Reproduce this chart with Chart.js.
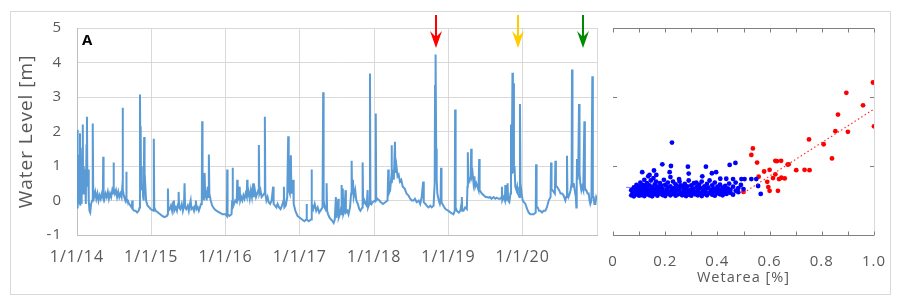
<!DOCTYPE html>
<html>
<head>
<meta charset="utf-8">
<script src="https://cdn.jsdelivr.net/npm/chart.js@4.4.1/dist/chart.umd.min.js"></script>
<style>
body { margin: 0; background: #fff; }
#wrap { position: relative; width: 902px; height: 305px; }
#frame { position: absolute; left: 10px; top: 11px; width: 879px; height: 282px; border: 1px solid #d9d9d9; }
#levelChart { position: absolute; left: 0; top: 0; }
#wetChart { position: absolute; left: 600px; top: 0; }
</style>
</head>
<body>
<div id="wrap">
  <div id="frame"></div>
  <canvas id="levelChart" width="600" height="305"></canvas>
  <canvas id="wetChart" width="290" height="305"></canvas>
</div>
<script>
// time series (decimal years)
var dates = [
  2014.000,2014.004,2014.008,2014.012,2014.020,2014.026,2014.032,2014.040,2014.044,2014.055,
  2014.062,2014.070,2014.078,2014.082,2014.090,2014.098,2014.110,2014.118,2014.128,2014.134,
  2014.140,2014.150,2014.158,2014.168,2014.178,2014.190,2014.205,2014.212,2014.218,2014.230,
  2014.245,2014.260,2014.275,2014.290,2014.305,2014.320,2014.335,2014.348,2014.353,2014.358,
  2014.370,2014.385,2014.400,2014.415,2014.430,2014.445,2014.460,2014.475,2014.488,2014.492,
  2014.497,2014.510,2014.525,2014.540,2014.555,2014.570,2014.585,2014.600,2014.610,2014.614,
  2014.619,2014.635,2014.650,2014.660,2014.664,2014.668,2014.685,2014.700,2014.720,2014.735,
  2014.745,2014.750,2014.770,2014.790,2014.810,2014.830,2014.843,2014.848,2014.852,2014.857,
  2014.862,2014.868,2014.874,2014.882,2014.890,2014.898,2014.904,2014.910,2014.918,2014.930,
  2014.950,2014.975,2014.990,2015.030,2015.034,2015.040,2015.060,2015.090,2015.120,2015.150,
  2015.180,2015.210,2015.220,2015.224,2015.230,2015.250,2015.265,2015.280,2015.295,2015.305,
  2015.310,2015.330,2015.345,2015.360,2015.368,2015.375,2015.390,2015.410,2015.425,2015.440,
  2015.448,2015.455,2015.470,2015.490,2015.505,2015.520,2015.530,2015.540,2015.560,2015.575,
  2015.590,2015.600,2015.610,2015.625,2015.640,2015.655,2015.670,2015.680,2015.685,2015.690,
  2015.700,2015.708,2015.718,2015.726,2015.735,2015.745,2015.760,2015.768,2015.775,2015.782,
  2015.800,2015.820,2015.850,2015.880,2015.920,2015.960,2016.000,2016.018,2016.022,2016.027,
  2016.050,2016.080,2016.088,2016.094,2016.100,2016.115,2016.130,2016.150,2016.157,2016.163,
  2016.175,2016.190,2016.197,2016.210,2016.225,2016.240,2016.255,2016.270,2016.285,2016.290,
  2016.296,2016.310,2016.325,2016.340,2016.355,2016.372,2016.380,2016.395,2016.410,2016.440,
  2016.448,2016.455,2016.470,2016.485,2016.520,2016.529,2016.535,2016.550,2016.565,2016.580,
  2016.600,2016.620,2016.640,2016.647,2016.665,2016.685,2016.700,2016.720,2016.740,2016.760,
  2016.780,2016.785,2016.792,2016.810,2016.830,2016.843,2016.850,2016.865,2016.879,2016.886,
  2016.910,2016.917,2016.940,2016.970,2017.000,2017.030,2017.060,2017.085,2017.090,2017.096,
  2017.120,2017.150,2017.157,2017.163,2017.180,2017.200,2017.220,2017.240,2017.260,2017.275,
  2017.305,2017.314,2017.320,2017.335,2017.355,2017.360,2017.367,2017.380,2017.400,2017.420,
  2017.440,2017.455,2017.470,2017.485,2017.490,2017.505,2017.517,2017.523,2017.540,2017.555,
  2017.562,2017.568,2017.578,2017.585,2017.600,2017.615,2017.620,2017.640,2017.655,2017.675,
  2017.690,2017.697,2017.703,2017.715,2017.725,2017.745,2017.760,2017.780,2017.800,2017.815,
  2017.840,2017.845,2017.852,2017.870,2017.885,2017.900,2017.912,2017.918,2017.935,2017.944,
  2017.950,2017.965,2017.980,2018.015,2018.022,2018.028,2018.045,2018.070,2018.090,2018.120,
  2018.150,2018.180,2018.190,2018.197,2018.215,2018.228,2018.234,2018.240,2018.255,2018.265,
  2018.280,2018.287,2018.300,2018.315,2018.330,2018.347,2018.365,2018.385,2018.410,2018.437,
  2018.460,2018.485,2018.505,2018.530,2018.550,2018.572,2018.600,2018.620,2018.640,2018.660,
  2018.668,2018.690,2018.707,2018.730,2018.755,2018.775,2018.800,2018.815,2018.820,2018.825,
  2018.829,2018.835,2018.842,2018.851,2018.870,2018.885,2018.895,2018.900,2018.907,2018.932,
  2018.960,2019.000,2019.030,2019.068,2019.085,2019.090,2019.097,2019.113,2019.140,2019.160,
  2019.175,2019.180,2019.187,2019.203,2019.225,2019.248,2019.256,2019.261,2019.268,2019.285,
  2019.300,2019.306,2019.313,2019.325,2019.338,2019.350,2019.360,2019.375,2019.390,2019.405,
  2019.414,2019.420,2019.435,2019.450,2019.475,2019.500,2019.518,2019.540,2019.560,2019.580,
  2019.608,2019.630,2019.650,2019.675,2019.698,2019.715,2019.720,2019.725,2019.745,2019.760,
  2019.766,2019.772,2019.785,2019.797,2019.803,2019.820,2019.835,2019.842,2019.848,2019.855,
  2019.862,2019.868,2019.875,2019.882,2019.890,2019.900,2019.915,2019.925,2019.935,2019.955,
  2019.963,2019.970,2019.985,2020.000,2020.036,2020.060,2020.080,2020.103,2020.125,2020.148,
  2020.175,2020.180,2020.187,2020.202,2020.220,2020.238,2020.260,2020.280,2020.305,2020.325,
  2020.350,2020.375,2020.381,2020.388,2020.400,2020.433,2020.440,2020.447,2020.462,2020.490,
  2020.510,2020.530,2020.550,2020.574,2020.585,2020.596,2020.602,2020.615,2020.632,2020.645,
  2020.658,2020.664,2020.670,2020.680,2020.686,2020.700,2020.715,2020.722,2020.727,2020.731,
  2020.738,2020.748,2020.758,2020.765,2020.775,2020.789,2020.800,2020.815,2020.830,2020.837,
  2020.845,2020.857,2020.873,2020.888,2020.900,2020.910,2020.925,2020.937,2020.944,2020.955,
  2020.965,2020.978,2020.990,2021.000
];
var waterLevel = [
  -0.2,1.2,2.05,-0.2,0.8,-0.1,1.3,1.95,-0.15,0.9,
  -0.1,1.5,2.2,0.2,1.0,0.3,0.9,-0.1,1.6,2.43,
  0.4,0.9,0.0,-0.3,-0.35,-0.1,0.0,2.23,0.3,0.1,
  0.25,0.05,0.2,0.0,0.15,0.05,0.2,0.1,1.27,0.2,
  0.05,0.2,0.1,0.25,0.05,0.2,0.1,0.3,0.2,1.1,
  0.35,0.2,0.3,0.1,0.25,0.1,0.2,0.1,0.4,2.69,
  0.3,0.1,0.0,0.1,0.83,0.05,0.0,-0.1,-0.15,-0.2,
  0.0,-0.25,-0.3,-0.3,-0.35,-0.3,-0.2,3.07,1.5,2.15,
  0.6,1.0,0.3,0.5,0.1,0.0,1.84,0.4,0.5,0.0,
  -0.15,-0.2,-0.25,-0.3,1.79,-0.2,-0.3,-0.35,-0.4,-0.45,
  -0.48,-0.45,-0.4,0.35,-0.3,-0.25,-0.15,-0.3,-0.05,0.0,
  -0.3,-0.2,-0.3,-0.1,0.25,-0.2,-0.25,-0.1,-0.3,-0.15,
  0.5,-0.2,-0.25,-0.15,-0.3,-0.1,0.0,-0.25,-0.2,-0.3,
  -0.15,0.0,-0.25,-0.2,-0.3,-0.2,-0.1,0.0,2.3,0.1,
  0.7,0.0,0.8,0.1,0.3,0.0,0.4,0.1,1.33,0.2,
  0.0,-0.15,-0.25,-0.3,-0.35,-0.4,-0.4,-0.45,0.9,-0.4,
  -0.45,-0.4,0.0,0.95,-0.2,-0.1,0.0,-0.05,0.6,0.0,
  0.05,0.4,0.0,0.1,0.0,0.15,0.05,0.2,0.1,0.6,
  0.1,0.25,0.05,0.3,0.1,0.5,0.1,0.3,0.1,0.3,
  1.61,0.2,0.3,0.1,0.2,2.43,0.2,0.0,0.1,-0.05,
  -0.1,0.0,0.4,-0.1,-0.15,-0.2,-0.1,-0.2,-0.25,-0.15,
  0.0,0.4,-0.2,-0.15,0.1,1.86,0.3,0.2,1.31,0.2,
  0.6,-0.1,-0.3,-0.45,-0.5,-0.55,-0.6,-0.55,-0.1,-0.55,
  -0.6,-0.55,0.9,-0.1,-0.25,-0.1,-0.3,-0.2,-0.35,-0.3,
  -0.2,3.14,0.0,-0.2,-0.3,0.5,-0.3,-0.4,-0.5,-0.55,
  -0.6,-0.65,-0.55,0.1,-0.5,-0.3,0.05,-0.5,-0.4,-0.2,
  0.45,-0.4,0.35,-0.4,-0.3,0.3,-0.35,-0.3,-0.4,-0.2,
  0.2,1.15,0.3,0.6,0.1,0.3,0.0,-0.1,-0.25,-0.3,
  -0.2,1.1,-0.1,0.0,-0.1,-0.15,0.3,-0.2,-0.1,3.68,
  0.0,-0.1,-0.05,0.0,2.52,0.0,0.05,0.0,-0.05,-0.1,
  -0.05,0.0,0.9,0.2,0.3,0.6,1.6,0.5,0.9,0.6,
  1.7,0.8,1.0,0.7,0.75,0.55,0.6,0.4,0.35,0.2,
  0.15,0.05,0.0,0.0,0.05,-0.05,0.0,-0.1,0.1,0.55,
  -0.05,-0.1,-0.15,-0.2,-0.15,-0.2,-0.15,0.5,3.35,2.0,
  4.23,1.5,0.6,0.2,0.0,-0.1,0.0,0.95,-0.05,-0.15,
  -0.25,-0.3,-0.35,-0.4,-0.3,2.64,-0.2,-0.3,-0.35,-0.3,
  -0.1,0.1,-0.3,-0.3,-0.2,-0.25,0.4,1.4,0.5,0.6,
  0.7,1.5,0.7,0.8,0.5,0.7,0.4,0.5,0.4,0.3,
  1.2,0.3,0.25,0.2,0.15,0.1,0.1,0.08,0.1,0.05,
  0.1,0.05,0.08,0.05,0.05,0.1,0.4,0.0,0.1,0.0,
  0.45,0.0,0.05,0.5,0.0,-0.05,0.2,2.2,0.8,1.5,
  3.7,1.0,3.4,0.8,1.0,0.4,0.3,0.4,0.2,0.1,
  2.8,0.5,0.2,0.0,-0.1,-0.25,-0.35,-0.4,-0.4,-0.4,
  -0.35,1.05,-0.2,-0.2,-0.3,-0.3,-0.35,-0.3,-0.3,-0.2,
  0.0,0.1,1.1,0.3,0.3,0.2,1.15,0.4,0.4,0.3,
  0.2,0.2,0.15,0.0,0.1,1.3,0.2,0.1,0.2,0.3,
  0.5,3.8,0.5,0.4,0.5,0.3,0.1,-0.2,0.5,1.2,
  0.6,1.0,2.8,0.8,0.5,0.3,0.4,0.3,2.3,0.4,
  0.3,0.3,0.2,0.2,0.0,-0.1,0.0,3.6,0.1,0.1,
  -0.1,-0.1,0.1,0.05
];

// arrows above the series
var arrowDates = [2018.829, 2019.93, 2020.816];
var arrowColors = ['#ff0000', '#ffcc00', '#008a00'];

// scatter: wet area fraction vs water level
var blueWet = [
  0.07,0.07,0.075,0.08,0.08,0.085,0.09,0.09,0.09,0.095,
  0.10,0.10,0.10,0.105,0.105,0.11,0.11,0.11,0.115,0.115,
  0.12,0.12,0.12,0.125,0.125,0.13,0.13,0.13,0.135,0.135,
  0.14,0.14,0.145,0.145,0.145,0.15,0.15,0.155,0.155,0.16,
  0.16,0.16,0.165,0.165,0.17,0.17,0.17,0.175,0.18,0.18,
  0.185,0.185,0.19,0.19,0.195,0.195,0.20,0.20,0.205,0.21,
  0.21,0.21,0.215,0.22,0.22,0.22,0.225,0.23,0.23,0.235,
  0.235,0.24,0.24,0.245,0.25,0.25,0.255,0.255,0.26,0.26,
  0.265,0.27,0.27,0.275,0.275,0.28,0.28,0.285,0.285,0.29,
  0.29,0.295,0.30,0.30,0.30,0.305,0.31,0.31,0.315,0.32,
  0.32,0.325,0.325,0.33,0.335,0.335,0.34,0.34,0.345,0.35,
  0.35,0.355,0.355,0.36,0.36,0.365,0.37,0.37,0.375,0.38,
  0.38,0.385,0.385,0.39,0.39,0.395,0.40,0.40,0.405,0.41,
  0.41,0.415,0.42,0.42,0.425,0.43,0.43,0.435,0.44,0.44,
  0.445,0.45,0.45,0.46,0.46,0.47,0.47,0.48,0.48,0.49,
  0.50,
  0.226,0.189,0.222,0.287,0.356,0.469,0.447,0.112,0.157,0.217,
  0.29,0.379,0.395,0.342,0.14,0.166,0.411,0.434,0.46,0.492,
  0.504,0.53,0.549,0.556,0.566,0.253,0.319
];
var blueLevel = [
  0.15,0.30,0.22,0.38,0.12,0.27,0.45,0.18,0.33,0.24,
  0.41,0.14,0.30,0.52,0.22,0.36,0.16,0.28,0.45,0.20,
  0.60,0.32,0.13,0.40,0.25,0.50,0.18,0.35,0.70,0.27,
  0.44,0.15,0.58,0.31,0.21,0.38,0.12,0.65,0.26,0.47,
  0.19,0.34,0.55,0.23,0.40,0.14,0.29,0.36,0.50,0.20,
  0.27,0.42,0.16,0.33,0.60,0.24,0.45,0.13,0.30,0.52,
  0.20,0.38,0.26,0.68,0.15,0.41,0.31,0.55,0.19,0.36,
  0.24,0.47,0.14,0.29,0.40,0.18,0.33,0.55,0.22,0.44,
  0.15,0.37,0.27,0.48,0.19,0.32,0.13,0.41,0.24,0.58,
  0.17,0.30,0.44,0.21,0.14,0.35,0.27,0.50,0.18,0.39,
  0.24,0.15,0.31,0.46,0.22,0.36,0.13,0.55,0.29,0.41,
  0.19,0.33,0.25,0.48,0.15,0.37,0.22,0.58,0.30,0.44,
  0.17,0.26,0.35,0.52,0.14,0.29,0.40,0.21,0.33,0.18,
  0.46,0.27,0.37,0.15,0.23,0.42,0.30,0.19,0.35,0.25,
  0.49,0.22,0.31,0.40,0.17,0.28,0.52,0.24,0.36,0.45,
  0.33,
  1.68,1.05,1.0,0.98,0.98,1.09,1.03,0.82,0.87,0.82,
  0.78,0.79,0.82,0.70,0.74,0.74,0.63,0.63,0.62,0.62,
  0.62,0.62,0.62,0.42,0.19,0.62,0.52
];
var redWet = [0.996,0.894,0.958,0.862,1.0,0.852,0.9,0.751,0.807,0.536,
  0.53,0.839,0.552,0.622,0.628,0.644,0.673,0.669,0.60,0.579,
  0.702,0.734,0.753,0.622,0.558,0.613,0.636,0.645,0.658,0.591,
  0.595,0.60,0.632,0.50];
var redLevel = [3.42,3.12,2.76,2.49,2.15,2.01,1.99,1.77,1.63,1.51,
  1.32,1.22,1.10,1.15,1.14,1.15,1.05,1.04,0.89,0.84,
  0.88,0.89,0.88,0.76,0.69,0.65,0.62,0.66,0.64,0.54,
  0.39,0.28,0.28,0.25];
var blueTrendWet = [0.05, 0.5];
var blueTrendLevel = [0.38, 0.36];
var redTrendWet = [0.5, 1.0];
var redTrendLevel = [0.22, 2.65];

function pairs(xs, ys) {
  return xs.map(function(x, i) { return {x: x, y: ys[i]}; });
}

var tickGrey = '#595959';

// a little letter spacing, like the office-style labels
var spacing = {
  id: 'spacing',
  beforeUpdate: function(chart) { chart.ctx.letterSpacing = '1px'; },
  beforeDraw: function(chart) { chart.ctx.letterSpacing = '1px'; }
};

function noPad(s) { s.paddingLeft = 0; s.paddingRight = 0; }

var marks = {
  id: 'marks',
  afterDraw: function(chart) {
    var ctx = chart.ctx, a = chart.chartArea, x = chart.scales.x;
    ctx.save();
    ctx.letterSpacing = '0px';
    ctx.font = 'bold 15px "Open Sans"';
    ctx.fillStyle = '#000';
    ctx.fillText('A', a.left + 5, a.top + 17);
    arrowDates.forEach(function(d, i) {
      var px = Math.round(x.getPixelForValue(d));
      ctx.strokeStyle = arrowColors[i];
      ctx.fillStyle = arrowColors[i];
      ctx.lineWidth = 2;
      ctx.beginPath();
      ctx.moveTo(px, 15);
      ctx.lineTo(px, 40);
      ctx.stroke();
      ctx.beginPath();
      ctx.moveTo(px - 6, 31);
      ctx.lineTo(px, 37);
      ctx.lineTo(px + 6, 31);
      ctx.lineTo(px, 48);
      ctx.closePath();
      ctx.fill();
    });
    ctx.restore();
  }
};

new Chart(document.getElementById('levelChart'), {
  type: 'line',
  data: {
    datasets: [{
      data: pairs(dates, waterLevel),
      borderColor: '#5b9bd5',
      borderWidth: 2,
      pointRadius: 0,
      tension: 0
    }]
  },
  options: {
    responsive: false,
    animation: false,
    layout: { padding: { left: 15, top: 28, right: 3, bottom: 0 } },
    plugins: { legend: { display: false }, tooltip: { enabled: false } },
    scales: {
      x: {
        type: 'linear', min: 2014, max: 2021,
        ticks: {
          stepSize: 1, autoSkip: false, maxRotation: 0, padding: 13,
          color: tickGrey, font: { family: 'Open Sans', size: 16 },
          callback: function(v) { return v < 2021 ? '1/1/' + String(v).slice(2) : ''; }
        },
        grid: { color: '#d9d9d9', drawTicks: false },
        border: { color: '#bfbfbf' },
        afterFit: function(s) { s.height = 70; noPad(s); }
      },
      y: {
        min: -1, max: 5,
        ticks: { stepSize: 1, padding: 15, color: tickGrey, font: { family: 'Open Sans', size: 15 } },
        grid: { color: '#d9d9d9', drawTicks: false },
        border: { color: '#bfbfbf' },
        title: { display: true, text: 'Water Level [m]', color: tickGrey, font: { family: 'Open Sans', size: 19 }, padding: 0 },
        afterFit: function(s) { s.width = 62; }
      }
    }
  },
  plugins: [spacing, marks]
});

var frame2 = {
  id: 'frame2',
  beforeDatasetsDraw: function(chart) {
    var ctx = chart.ctx, a = chart.chartArea, x = chart.scales.x, y = chart.scales.y;
    ctx.save();
    ctx.lineWidth = 1;
    ctx.strokeStyle = '#d9d9d9';
    ctx.beginPath();
    ctx.moveTo(Math.round(a.right) + 0.5, a.top);
    ctx.lineTo(Math.round(a.right) + 0.5, a.bottom);
    ctx.stroke();
    ctx.strokeStyle = '#7f7f7f';
    ctx.beginPath();
    var top = Math.round(a.top) + 0.5, bot = Math.round(a.bottom) + 0.5;
    ctx.moveTo(a.left, top); ctx.lineTo(a.right, top);
    ctx.moveTo(a.left, bot); ctx.lineTo(a.right, bot);
    x.ticks.forEach(function(t) {
      var px = Math.round(x.getPixelForValue(t.value)) + 0.5;
      ctx.moveTo(px, top); ctx.lineTo(px, top + 4);
      ctx.moveTo(px, bot); ctx.lineTo(px, bot - 4);
    });
    y.ticks.forEach(function(t) {
      var py = Math.round(y.getPixelForValue(t.value)) + 0.5;
      ctx.moveTo(a.left, py); ctx.lineTo(a.left + 4, py);
      ctx.moveTo(a.right, py); ctx.lineTo(a.right - 4, py);
    });
    ctx.stroke();
    ctx.restore();
  }
};

new Chart(document.getElementById('wetChart'), {
  type: 'scatter',
  data: {
    datasets: [
      { data: pairs(blueTrendWet, blueTrendLevel), type: 'line', borderColor: 'rgba(90,90,240,0.8)', borderWidth: 1, pointRadius: 0, order: 3 },
      { data: pairs(blueWet, blueLevel), backgroundColor: '#0000ff', borderColor: '#0000ff', pointRadius: 2.4, borderWidth: 0, order: 2 },
      { data: pairs(redWet, redLevel), backgroundColor: '#ff0000', borderColor: '#ff0000', pointRadius: 2.4, borderWidth: 0, order: 2 },
      { data: pairs(redTrendWet, redTrendLevel), type: 'line', borderColor: '#ff3030', borderWidth: 1.2, borderDash: [1.5, 2.5], pointRadius: 0, order: 1 }
    ]
  },
  options: {
    responsive: false,
    animation: false,
    layout: { padding: { left: 13, top: 28, right: 16, bottom: 0 } },
    plugins: { legend: { display: false }, tooltip: { enabled: false } },
    scales: {
      x: {
        type: 'linear', min: 0, max: 1,
        ticks: {
          stepSize: 0.1, autoSkip: false, maxRotation: 0, padding: 10,
          color: tickGrey, font: { family: 'Open Sans', size: 15 },
          callback: function(v) {
            var k = Math.round(v * 10);
            if (k % 2) return '';
            return k === 0 ? '0' : (k / 10).toFixed(1);
          }
        },
        grid: { display: false },
        border: { display: false },
        title: { display: true, text: 'Wetarea [%]', color: tickGrey, font: { family: 'Open Sans', size: 14.5 }, padding: { top: 0, bottom: 18 } },
        afterFit: function(s) { s.height = 70; noPad(s); }
      },
      y: {
        display: false, min: -1, max: 5,
        ticks: { stepSize: 2 }
      }
    }
  },
  plugins: [spacing, frame2]
});
</script>
</body>
</html>
